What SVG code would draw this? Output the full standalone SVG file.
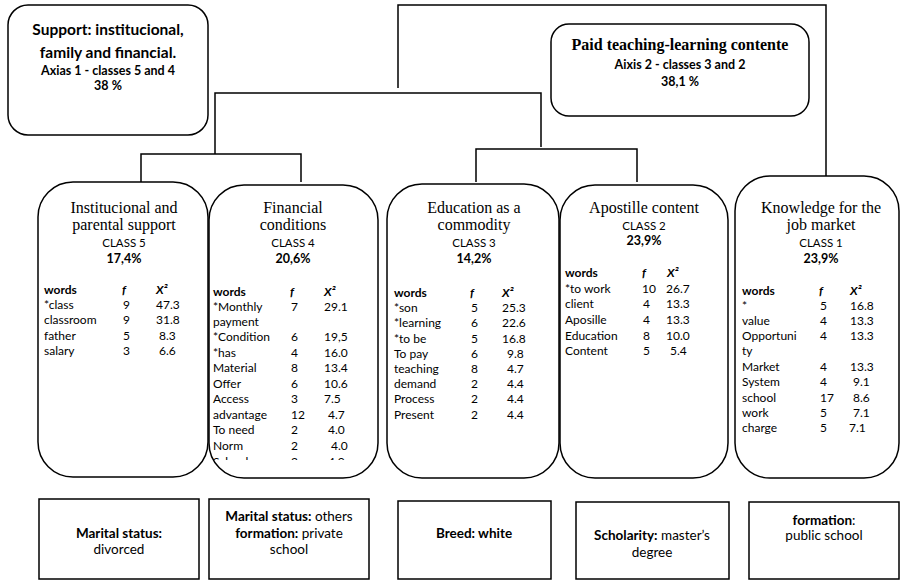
<svg xmlns="http://www.w3.org/2000/svg" width="901" height="581" viewBox="0 0 901 581">
<style>
.box{fill:#fff;stroke:#000;stroke-width:1.5}
.ln{fill:none;stroke:#000;stroke-width:1.5}
.s{font-family:Lato,"Noto Sans",sans-serif;fill:#000}
.sr{font-family:"Liberation Serif","Times New Roman",serif;fill:#000}
.b{font-weight:bold}
.t{font-size:12px}
.c{text-anchor:middle}
.h{font-size:12px;font-weight:bold}
.hi{font-size:12px;font-weight:bold;font-style:italic}
.tt{font-size:16px}
.cl{font-size:11.5px}
.pc{font-size:12.5px;font-weight:bold}
.bt{font-size:13.5px}
</style>
<defs>
<clipPath id="c4clip"><rect x="200" y="180" width="190" height="280"/></clipPath>
</defs>
<g id="connectors">
<polyline class="ln" points="398,88 398,5 826,5 826,177"/>
<polyline class="ln" points="215,154 215,93 541,93 541,147"/>
<polyline class="ln" points="141,182 141,154 301,154 301,182"/>
<polyline class="ln" points="476,182 476,149 637,149 637,182"/>
</g>
<g id="axis1">
<rect class="box" x="8" y="5" width="200" height="130" rx="20"/>
<text class="s b c" x="108" y="35" font-size="15.5">Support: institucional,</text>
<text class="s b c" x="108" y="58" font-size="15.5">family and financial.</text>
<text class="s b c" x="108" y="75" font-size="12.5">Axias 1 - classes 5 and 4</text>
<text class="s b c" x="108" y="90" font-size="12.5">38 %</text>
</g>
<g id="axis2">
<rect class="box" x="551" y="24" width="258" height="92" rx="18"/>
<text class="sr b c" x="680" y="50" font-size="16">Paid teaching-learning contente</text>
<text class="s b c" x="680" y="69" font-size="12.5">Aixis 2 - classes 3 and 2</text>
<text class="s b c" x="680" y="86" font-size="12.5">38,1 %</text>
</g>
<g id="class5">
<rect class="box" x="38" y="182" width="170" height="295" rx="35"/>
<text class="sr tt c" x="124" y="213">Institucional and</text>
<text class="sr tt c" x="124" y="230">parental support</text>
<text class="s cl c" x="124" y="247">CLASS 5</text>
<text class="s pc c" x="124" y="263">17,4%</text>
<text class="s h" x="44" y="294">words</text><text class="s hi" x="122" y="294">f</text><text class="s hi" x="156" y="294">X²</text>
<text class="s t" x="44" y="309">*class</text><text class="s t" x="123" y="309">9</text><text class="s t" x="156" y="309">47.3</text>
<text class="s t" x="44" y="324">classroom</text><text class="s t" x="123" y="324">9</text><text class="s t" x="156" y="324">31.8</text>
<text class="s t" x="44" y="340">father</text><text class="s t" x="123" y="340">5</text><text class="s t" x="159" y="340">8.3</text>
<text class="s t" x="44" y="355">salary</text><text class="s t" x="123" y="355">3</text><text class="s t" x="159" y="355">6.6</text>
</g>
<g id="class4">
<rect class="box" x="209" y="185" width="169" height="293" rx="35"/>
<text class="sr tt c" x="293" y="213">Financial</text>
<text class="sr tt c" x="293" y="230">conditions</text>
<text class="s cl c" x="293" y="247">CLASS 4</text>
<text class="s pc c" x="293" y="263">20,6%</text>
<text class="s h" x="213" y="296">words</text><text class="s hi" x="290" y="296">f</text><text class="s hi" x="324" y="296">X²</text>
<text class="s t" x="213" y="311">*Monthly</text><text class="s t" x="291" y="311">7</text><text class="s t" x="324" y="311">29.1</text>
<text class="s t" x="213" y="326">payment</text>
<text class="s t" x="213" y="341">*Condition</text><text class="s t" x="291" y="341">6</text><text class="s t" x="324" y="341">19,5</text>
<text class="s t" x="213" y="357">*has</text><text class="s t" x="291" y="357">4</text><text class="s t" x="324" y="357">16.0</text>
<text class="s t" x="213" y="372">Material</text><text class="s t" x="291" y="372">8</text><text class="s t" x="324" y="372">13.4</text>
<text class="s t" x="213" y="388">Offer</text><text class="s t" x="291" y="388">6</text><text class="s t" x="324" y="388">10.6</text>
<text class="s t" x="213" y="403">Access</text><text class="s t" x="291" y="403">3</text><text class="s t" x="324" y="403">7.5</text>
<text class="s t" x="213" y="419">advantage</text><text class="s t" x="291" y="419">12</text><text class="s t" x="328" y="419">4.7</text>
<text class="s t" x="213" y="434">To need</text><text class="s t" x="291" y="434">2</text><text class="s t" x="328" y="434">4.0</text>
<text class="s t" x="213" y="450">Norm</text><text class="s t" x="291" y="450">2</text><text class="s t" x="331" y="450">4.0</text>
<g clip-path="url(#c4clip)"><text class="s t" x="213" y="466">School</text><text class="s t" x="291" y="466">2</text><text class="s t" x="328" y="466">4.0</text></g>
</g>
<g id="class3">
<rect class="box" x="387" y="184" width="172" height="294" rx="35"/>
<text class="sr tt c" x="474" y="213">Education as a</text>
<text class="sr tt c" x="474" y="230">commodity</text>
<text class="s cl c" x="474" y="247">CLASS 3</text>
<text class="s pc c" x="474" y="263">14,2%</text>
<text class="s h" x="394" y="297">words</text><text class="s hi" x="470" y="297">f</text><text class="s hi" x="502" y="297">X²</text>
<text class="s t" x="394" y="312">*son</text><text class="s t" x="471" y="312">5</text><text class="s t" x="502" y="312">25.3</text>
<text class="s t" x="394" y="327">*learning</text><text class="s t" x="471" y="327">6</text><text class="s t" x="502" y="327">22.6</text>
<text class="s t" x="394" y="343">*to be</text><text class="s t" x="471" y="343">5</text><text class="s t" x="502" y="343">16.8</text>
<text class="s t" x="394" y="358">To pay</text><text class="s t" x="471" y="358">6</text><text class="s t" x="507" y="358">9.8</text>
<text class="s t" x="394" y="373">teaching</text><text class="s t" x="471" y="373">8</text><text class="s t" x="507" y="373">4.7</text>
<text class="s t" x="394" y="388">demand</text><text class="s t" x="471" y="388">2</text><text class="s t" x="507" y="388">4.4</text>
<text class="s t" x="394" y="403">Process</text><text class="s t" x="471" y="403">2</text><text class="s t" x="507" y="403">4.4</text>
<text class="s t" x="394" y="419">Present</text><text class="s t" x="471" y="419">2</text><text class="s t" x="507" y="419">4.4</text>
</g>
<g id="class2">
<rect class="box" x="560" y="185" width="168" height="293" rx="35"/>
<text class="sr tt c" x="644" y="213">Apostille content</text>
<text class="s cl c" x="644" y="230">CLASS 2</text>
<text class="s pc c" x="644" y="245">23,9%</text>
<text class="s h" x="565" y="277">words</text><text class="s hi" x="642" y="277">f</text><text class="s hi" x="667" y="277">X²</text>
<text class="s t" x="565" y="293">*to work</text><text class="s t" x="642" y="293">10</text><text class="s t" x="666" y="293">26.7</text>
<text class="s t" x="565" y="308">client</text><text class="s t" x="643" y="308">4</text><text class="s t" x="666" y="308">13.3</text>
<text class="s t" x="565" y="324">Aposille</text><text class="s t" x="643" y="324">4</text><text class="s t" x="666" y="324">13.3</text>
<text class="s t" x="565" y="340">Education</text><text class="s t" x="643" y="340">8</text><text class="s t" x="666" y="340">10.0</text>
<text class="s t" x="565" y="355">Content</text><text class="s t" x="643" y="355">5</text><text class="s t" x="670" y="355">5.4</text>
</g>
<g id="class1">
<rect class="box" x="735" y="176" width="164" height="302" rx="35"/>
<text class="sr tt c" x="821" y="213">Knowledge for the</text>
<text class="sr tt c" x="821" y="230">job market</text>
<text class="s cl c" x="821" y="247">CLASS 1</text>
<text class="s pc c" x="821" y="263">23,9%</text>
<text class="s h" x="742" y="295">words</text><text class="s hi" x="819" y="295">f</text><text class="s hi" x="850" y="295">X²</text>
<text class="s t" x="742" y="310">*</text><text class="s t" x="820" y="310">5</text><text class="s t" x="850" y="310">16.8</text>
<text class="s t" x="742" y="325">value</text><text class="s t" x="820" y="325">4</text><text class="s t" x="850" y="325">13.3</text>
<text class="s t" x="742" y="340">Opportuni</text><text class="s t" x="820" y="340">4</text><text class="s t" x="850" y="340">13.3</text>
<text class="s t" x="742" y="355">ty</text>
<text class="s t" x="742" y="371">Market</text><text class="s t" x="820" y="371">4</text><text class="s t" x="850" y="371">13.3</text>
<text class="s t" x="742" y="386">System</text><text class="s t" x="820" y="386">4</text><text class="s t" x="853" y="386">9.1</text>
<text class="s t" x="742" y="402">school</text><text class="s t" x="820" y="402">17</text><text class="s t" x="853" y="402">8.6</text>
<text class="s t" x="742" y="417">work</text><text class="s t" x="820" y="417">5</text><text class="s t" x="853" y="417">7.1</text>
<text class="s t" x="742" y="432">charge</text><text class="s t" x="820" y="432">5</text><text class="s t" x="849" y="432">7.1</text>
</g>
<g id="profile5">
<rect class="box" x="39" y="499" width="160" height="80"/>
<text class="s bt c" x="119" y="538"><tspan font-weight="bold">Marital status:</tspan></text>
<text class="s bt c" x="119" y="554">divorced</text>
</g>
<g id="profile4">
<rect class="box" x="209" y="499" width="160" height="80"/>
<text class="s bt c" x="289" y="521"><tspan font-weight="bold">Marital status:</tspan> others</text>
<text class="s bt c" x="289" y="538"><tspan font-weight="bold">formation:</tspan> private</text>
<text class="s bt c" x="289" y="554">school</text>
</g>
<g id="profile3">
<rect class="box" x="398" y="501" width="153" height="78"/>
<text class="s bt b c" x="474" y="538">Breed: white</text>
</g>
<g id="profile2">
<rect class="box" x="576" y="502" width="153" height="77"/>
<text class="s bt c" x="652" y="540"><tspan font-weight="bold">Scholarity:</tspan> master’s</text>
<text class="s bt c" x="652" y="557">degree</text>
</g>
<g id="profile1">
<rect class="box" x="749" y="502" width="150" height="77"/>
<text class="s bt c" x="824" y="525"><tspan font-weight="bold">formation</tspan>:</text>
<text class="s bt c" x="824" y="540">public school</text>
</g>
</svg>
